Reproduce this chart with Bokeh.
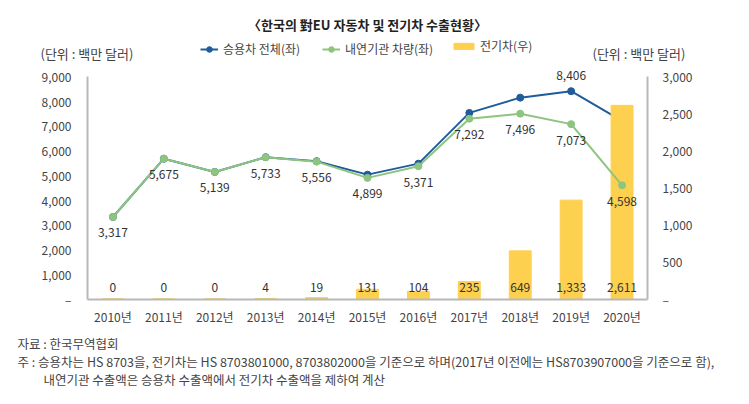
from bokeh.plotting import figure
from bokeh.models import (ColumnDataSource, Range1d, LinearAxis, FixedTicker, NumeralTickFormatter,
                          LabelSet, Label, Legend, LegendItem)
from bokeh.core.properties import value
from bokeh.embed import file_html
from bokeh.resources import INLINE

# ---- data ----
years = ["2010년", "2011년", "2012년", "2013년", "2014년", "2015년",
         "2016년", "2017년", "2018년", "2019년", "2020년"]
total = [3317, 5675, 5139, 5737, 5575, 5030, 5475, 7527, 8145, 8406, 7209]   # 승용차 전체(좌)
ice = [3317, 5675, 5139, 5733, 5556, 4899, 5371, 7292, 7496, 7073, 4598]     # 내연기관 차량(좌)
ev = [0, 0, 0, 4, 19, 131, 104, 235, 649, 1333, 2611]                        # 전기차(우)
left_ticks = [0, 1000, 2000, 3000, 4000, 5000, 6000, 7000, 8000, 9000]
right_ticks = [0, 500, 1000, 1500, 2000, 2500, 3000]

title = "〈한국의 對EU 자동차 및 전기차 수출현황〉"
unit_text = "(단위 : 백만 달러)"
note1 = "자료 : 한국무역협회"
note2 = "주 : 승용차는 HS 8703을, 전기차는 HS 8703801000, 8703802000을 기준으로 하며(2017년 이전에는 HS8703907000을 기준으로 함),"
note3 = "내연기관 수출액은 승용차 수출액에서 전기차 수출액을 제하여 계산"

FONT = "Noto Sans CJK KR"
BLUE = "#1f5c99"
GREEN = "#8dc47f"
YELLOW = "#fdd04f"
AXIS = "#b8b8b8"
TXT = "#444444"

# ---- layout geometry (canvas pixels) ----
W, H = 749, 404
PL, PR, PT, PB = 87, 647, 76, 298.5        # plot box edges
n = len(years)
LMAX, RMAX = 9000, 3000
xpx = (PR - PL) / n                         # pixels per category
x0 = -0.5 - PL / xpx
x1 = -0.5 + (W - PL) / xpx
upp = LMAX / (PB - PT)                      # left units per pixel
y0 = -(H - PB) * upp
y1 = LMAX + PT * upp
rs = RMAX / LMAX

xi = list(range(n))
src = ColumnDataSource(dict(
    x=xi, total=total, ice=ice, ev=ev,
    ice_lbl=[f"{v:,}" for v in ice],
    ev_lbl=[f"{v:,}" for v in ev],
    ev_base=[0] * n,
))
peak_i = total.index(max(total))
peak_src = ColumnDataSource(dict(x=[peak_i], total=[total[peak_i]], lbl=[f"{total[peak_i]:,}"]))

p = figure(x_range=Range1d(x0, x1), y_range=Range1d(y0, y1),
           width=W, height=H, output_backend="svg", toolbar_location=None,
           x_axis_location=None, y_axis_location=None,
           min_border=0, outline_line_color=None)
p.extra_y_ranges = {"ev": Range1d(y0 * rs, y1 * rs)}
p.xgrid.visible = False
p.ygrid.visible = False

def style_axis(ax):
    ax.axis_line_color = AXIS
    ax.axis_line_width = 2
    ax.major_tick_line_color = None
    ax.minor_tick_line_color = None
    ax.major_tick_out = 0
    ax.major_tick_in = 0
    ax.minor_tick_out = 0
    ax.major_label_text_font = FONT
    ax.major_label_text_font_size = "12px"
    ax.major_label_text_color = TXT

xax = LinearAxis(ticker=FixedTicker(ticks=xi), fixed_location=0, bounds=(-0.5, n - 0.5))
xax.major_label_overrides = {i: years[i] for i in xi}
style_axis(xax)
xax.major_label_standoff = 9
p.add_layout(xax, "below")

lax = LinearAxis(ticker=FixedTicker(ticks=left_ticks), formatter=NumeralTickFormatter(format="0,0"),
                 fixed_location=-0.5, bounds=(0, LMAX))
lax.major_label_overrides = {0: "–"}
style_axis(lax)
lax.major_label_standoff = 16
p.add_layout(lax, "left")

rax = LinearAxis(y_range_name="ev", ticker=FixedTicker(ticks=right_ticks),
                 formatter=NumeralTickFormatter(format="0,0"),
                 fixed_location=n - 0.5, bounds=(0, RMAX))
rax.major_label_overrides = {0: "–"}
style_axis(rax)
rax.major_label_standoff = 15
p.add_layout(rax, "right")

# glyphs: blue, bars, green (draw order as in reference)
bl = p.line("x", "total", source=src, color=BLUE, line_width=2)
bp = p.scatter("x", "total", source=src, size=7, color=BLUE)
bars = p.vbar(x="x", top="ev", source=src, width=0.43, color=YELLOW, y_range_name="ev")
gl = p.line("x", "ice", source=src, color=GREEN, line_width=2)
gp = p.scatter("x", "ice", source=src, size=7, color=GREEN)

# data labels
lbl_kw = dict(text_align="center", text_baseline="middle", text_font=value(FONT),
              text_font_size="12px", text_color="#333333")
p.add_layout(LabelSet(x="x", y="ice", text="ice_lbl", source=src, y_offset=-16, **lbl_kw))
p.add_layout(LabelSet(x="x", y="total", text="lbl", source=peak_src, y_offset=16, **lbl_kw))
p.add_layout(LabelSet(x="x", y="ev_base", text="ev_lbl", source=src, y_offset=12,
                      y_range_name="ev", **lbl_kw))

# legends
leg1 = Legend(items=[LegendItem(label="승용차 전체(좌)", renderers=[bl, bp]),
                     LegendItem(label="내연기관 차량(좌)", renderers=[gl, gp])],
              location=(200, H - 57), orientation="horizontal", padding=0, margin=0,
              spacing=22, label_standoff=5, glyph_width=18, glyph_height=14, label_height=14,
              label_text_font=FONT, label_text_font_size="12px", label_text_color=TXT,
              border_line_color=None, background_fill_alpha=0)
leg2 = Legend(items=[LegendItem(label="전기차(우)", renderers=[bars])],
              location=(451, H - 54), orientation="horizontal", padding=0, margin=0,
              label_standoff=4, glyph_width=25, glyph_height=8, label_height=8,
              label_text_font=FONT, label_text_font_size="12px", label_text_color=TXT,
              border_line_color=None, background_fill_alpha=0)
p.add_layout(leg1, "center")
p.add_layout(leg2, "center")

def lab(text, x, y, align="left", size="12px", style="normal", color=TXT):
    # x, y given as canvas pixels from top-left
    p.add_layout(Label(text=text, x=x, y=H - y, x_units="screen", y_units="screen",
                       text_align=align, text_baseline="middle", text_font=FONT,
                       text_font_size=size, text_font_style=style, text_color=color))

lab(title, 367, 24, align="center", size="13px", style="bold", color="#222222")
lab(unit_text, 40, 53, size="13px")
lab(unit_text, 592, 53, size="13px")
lab(note1, 17, 343, size="12.5px")
lab(note2, 17, 361, size="12.5px")
lab(note3, 43, 379, size="12.5px")

open("out.html", "w").write(file_html(p, INLINE))
